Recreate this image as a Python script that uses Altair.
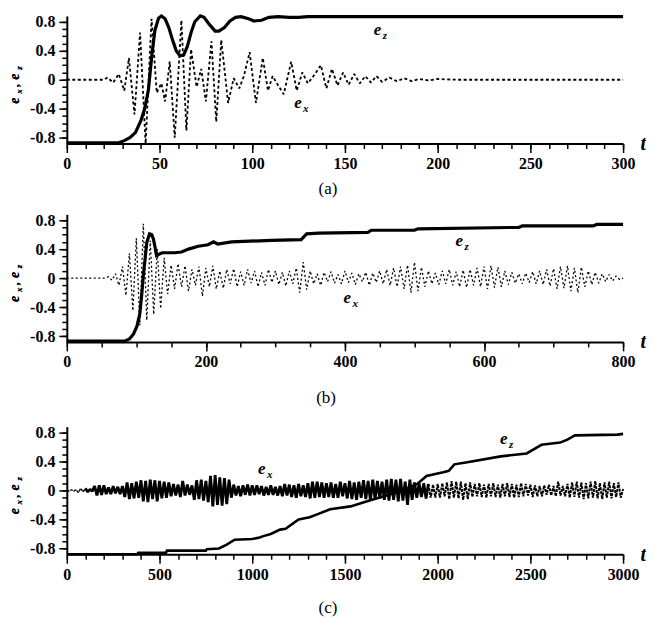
import altair as alt
import pandas as pd

FONT = "Liberation Serif"
W, H = 558, 128
YD = [-0.88, 0.88]
Y_MAJOR = [-0.8, -0.4, 0, 0.4, 0.8]
Y_MINOR = [-0.8, -0.7, -0.6, -0.5, -0.4, -0.3, -0.2, -0.1, 0, 0.1, 0.2, 0.3, 0.4, 0.5, 0.6, 0.7, 0.8]

# ---------------- panel (a) ----------------
a_tz = [0, 28, 31, 34, 37, 40, 42, 44, 46, 47.5, 49.5, 51, 53, 55, 57, 59, 61, 63, 65, 67, 69, 72, 74,
        77, 80, 82, 85, 88, 91, 94, 98, 101, 105, 109, 114, 120, 125, 130, 140, 300]
a_ez = [-0.87, -0.87, -0.84, -0.80, -0.73, -0.56, -0.40, -0.14, 0.37, 0.68, 0.85, 0.88, 0.84, 0.72, 0.55,
        0.40, 0.33, 0.34, 0.46, 0.65, 0.80, 0.88, 0.86, 0.76, 0.67, 0.67, 0.72, 0.81, 0.86, 0.87, 0.84,
        0.81, 0.82, 0.86, 0.87, 0.86, 0.86, 0.87, 0.87, 0.87]
a_tx = [0, 20, 22, 25, 28, 31, 33.5, 36.5, 39.5, 42.5, 45.7, 48.5, 51, 53, 55.5, 58.2, 61.8, 64.5, 67, 70,
        72.5, 75, 78, 80.6, 83.3, 87, 90, 93, 95.5, 98.6, 102, 105.7, 108.5, 111, 114, 117, 121, 124, 127,
        130, 133, 137, 140, 143, 146, 149, 152, 155, 158, 161, 164, 167, 170, 174, 178, 182, 186, 190, 195,
        200, 210, 300]
a_ex = [0, 0, 0.03, -0.04, 0.08, -0.15, 0.30, -0.48, 0.65, -0.88, 0.84, -0.18, -0.05, -0.30, 0.25, -0.80,
        0.82, -0.70, 0.42, -0.10, 0.15, -0.30, 0.53, -0.58, 0.55, -0.32, 0.02, -0.12, 0.05, 0.38, -0.32,
        0.30, -0.15, 0.05, -0.08, -0.20, 0.25, -0.15, 0.10, -0.05, 0.05, 0.20, -0.12, 0.15, -0.08, 0.10,
        -0.07, 0.08, -0.05, 0.05, -0.04, 0.05, -0.03, 0.03, -0.02, 0.02, -0.02, 0.01, -0.01, 0.01, 0, 0]

# ---------------- panel (b) ----------------
b_tz = [0, 83, 90, 96, 101, 105, 108, 110, 113, 115, 119, 122, 124.5, 127, 129, 133, 137, 155, 165, 175,
        189, 203, 211, 217, 237, 294, 337, 345, 362, 433, 438, 500, 505, 650, 655, 757, 762, 800]
b_ez = [-0.87, -0.87, -0.84, -0.77, -0.66, -0.49, -0.20, 0.03, 0.30, 0.49, 0.61, 0.60, 0.54, 0.42, 0.31,
        0.33, 0.35, 0.35, 0.36, 0.40, 0.44, 0.46, 0.50, 0.47, 0.50, 0.52, 0.53, 0.61, 0.62, 0.63, 0.66,
        0.66, 0.68, 0.70, 0.72, 0.72, 0.74, 0.74]
b_tx = list(range(0, 805, 5))
b_ex = [0, 0, 0, 0, 0, 0, 0, 0, 0, 0, 0, 0,
        0.02, -0.03, 0.06, -0.10, 0.16, -0.24, 0.34, -0.45, 0.55, -0.65, 0.75, -0.58, 0.52, -0.50, 0.40,
        -0.42, 0.28, -0.22, 0.18, -0.15, 0.20, -0.12, 0.17, -0.18, 0.12, -0.10, 0.16, -0.25, 0.14, -0.12,
        0.17, -0.15, 0.10, -0.14, 0.12, -0.08, 0.13, -0.12, 0.09, -0.10, 0.12, -0.07, 0.10, -0.12, 0.08,
        -0.10, 0.12, -0.06, 0.10, -0.09, 0.08, -0.11, 0.10, -0.08, 0.14, -0.20, 0.22, -0.16, 0.10, -0.08,
        0.06, -0.10, 0.08, -0.05, 0.09, -0.07, 0.05, -0.08, 0.10, -0.06, 0.07, -0.09, 0.06, -0.05, 0.08,
        -0.10, 0.07, -0.06, 0.10, -0.08, 0.12, -0.10, 0.14, -0.12, 0.16, -0.15, 0.18, -0.20, 0.22, -0.18,
        0.15, -0.12, 0.10, -0.08, 0.07, -0.09, 0.10, -0.08, 0.12, -0.10, 0.09, -0.12, 0.11, -0.13, 0.12,
        -0.10, 0.14, -0.12, 0.16, -0.15, 0.17, -0.13, 0.15, -0.12, 0.10, -0.09, 0.08, -0.07, 0.06, -0.08,
        0.07, -0.06, 0.09, -0.08, 0.10, -0.09, 0.12, -0.11, 0.13, -0.15, 0.16, -0.14, 0.17, -0.18, 0.14,
        -0.20, 0.15, -0.12, 0.10, -0.09, 0.08, -0.07, 0.06, -0.05, 0.05, -0.04, 0.03, -0.02, 0.0]

# ---------------- panel (c) ----------------
c_tz = [0, 380, 385, 535, 540, 750, 755, 820, 860, 905, 1000, 1040, 1060, 1100, 1150, 1180, 1250, 1310,
        1350, 1420, 1530, 1620, 1710, 1800, 1890, 1940, 2030, 2060, 2090, 2160, 2340, 2480, 2520, 2560,
        2660, 2700, 2740, 2970, 3000]
c_ez = [-0.88, -0.88, -0.86, -0.86, -0.83, -0.83, -0.81, -0.80, -0.75, -0.68, -0.67, -0.65, -0.63, -0.60,
        -0.54, -0.53, -0.40, -0.37, -0.33, -0.26, -0.22, -0.15, -0.08, -0.01, 0.09, 0.20, 0.25, 0.27,
        0.36, 0.39, 0.47, 0.51, 0.57, 0.63, 0.66, 0.70, 0.76, 0.77, 0.78]
c_tx = [i * 12.5 for i in range(241)]
c_ex = [0.01, -0.01, 0.01, -0.01, 0.01, -0.03, 0.03, -0.02,
        0.03, -0.02, 0.015, -0.01, 0.06, -0.07, 0.07, -0.06,
        0.07, -0.05, 0.04, -0.05, 0.06, -0.04, 0.05, -0.05,
        0.06, -0.09, 0.11, -0.12, 0.10, -0.11, 0.12, -0.10,
        0.14, -0.15, 0.13, -0.16, 0.15, -0.12, 0.14, -0.15,
        0.13, -0.11, 0.12, -0.10, 0.11, -0.08, 0.09, -0.07,
        0.08, -0.09, 0.13, -0.07, 0.08, -0.06, 0.07, -0.13,
        0.14, -0.12, 0.15, -0.14, 0.13, -0.16, 0.20, -0.22,
        0.21, -0.20, 0.18, -0.21, 0.17, -0.19, 0.15, -0.10,
        0.08, -0.07, 0.06, -0.08, 0.07, -0.06, 0.08, -0.07,
        0.07, -0.06, 0.07, -0.05, 0.06, -0.07, 0.05, -0.06,
        0.07, -0.06, 0.05, -0.07, 0.06, -0.08, 0.09, -0.07,
        0.08, -0.09, 0.07, -0.10, 0.09, -0.08, 0.07, -0.09,
        0.10, -0.11, 0.12, -0.10, 0.12, -0.09, 0.11, -0.10,
        0.10, -0.09, 0.11, -0.10, 0.09, -0.10, 0.12, -0.08,
        0.10, -0.11, 0.13, -0.12, 0.11, -0.13, 0.12, -0.10,
        0.14, -0.12, 0.13, -0.14, 0.15, -0.12, 0.13, -0.11,
        0.12, -0.13, 0.15, -0.14, 0.16, -0.13, 0.15, -0.15,
        0.16, -0.14, 0.12, -0.20, 0.15, -0.13, 0.11, -0.10,
        0.10, -0.09, 0.10, -0.11, 0.09, -0.10, 0.08, -0.10,
        0.09, -0.10, 0.10, -0.08, 0.11, -0.12, 0.13, -0.10,
        0.12, -0.11, 0.12, -0.13, 0.10, -0.12, 0.11, -0.09,
        0.09, -0.08, 0.10, -0.09, 0.08, -0.10, 0.09, -0.08,
        0.10, -0.09, 0.08, -0.10, 0.09, -0.08, 0.10, -0.09,
        0.09, -0.10, 0.08, -0.09, 0.10, -0.08, 0.09, -0.07,
        0.08, -0.09, 0.07, -0.08, 0.06, -0.08, 0.07, -0.06,
        0.08, -0.07, 0.06, -0.08, 0.12, -0.07, 0.06, -0.08,
        0.09, -0.10, 0.11, -0.09, 0.12, -0.10, 0.11, -0.12,
        0.10, -0.11, 0.12, -0.10, 0.13, -0.11, 0.10, -0.12,
        0.11, -0.10, 0.12, -0.11, 0.10, -0.09, 0.11, -0.10,
        0.02]

# label anchors (data units): [t, value] of e_z and e_x labels
a_lab = {"t": [165.6, 122.6], "v": [0.62, -0.385]}
b_lab = {"t": [559, 398], "v": [0.44, -0.344]}
c_lab = {"t": [2336, 1031], "v": [0.646, 0.22]}

Y_LABEL_EXPR = ("datum.value == 0 ? '0' : (datum.value < 0 ? '-' + format(-datum.value, '.1f') "
                ": format(datum.value, '.1f'))")


def panel(tz, vz, tx, vx, xmax, xmaj, xmin, lab, caption, cap_dx, cap_off, ex_styles, ez_w):
    xs = alt.Scale(domain=[0, xmax], nice=False, zero=False)
    ys = alt.Scale(domain=YD, nice=False, zero=False)
    x_major = alt.Axis(values=xmaj, format="d", tickSize=9, tickWidth=1.5, tickColor="black",
                       domainWidth=2, domainColor="black", labelFont=FONT, labelFontSize=16,
                       labelFontWeight="bold", labelColor="black", labelPadding=3, labelFlush=False,
                       labelOverlap=False, grid=False, orient="bottom",
                       title="t", titleFont=FONT, titleFontSize=20, titleFontStyle="italic",
                       titleFontWeight="bold", titleColor="black", titleX=W + 17, titleY=6,
                       titleAlign="left", titleBaseline="alphabetic", titleAngle=0)
    x_minor = alt.Axis(values=xmin, labels=False, tickSize=5, tickWidth=1.5, tickColor="black",
                       domain=False, grid=False, title="", orient="bottom")
    y_major = alt.Axis(values=Y_MAJOR, labelExpr=Y_LABEL_EXPR, tickSize=8, tickWidth=1.5,
                       tickColor="black", domainWidth=2, domainColor="black", labelFont=FONT,
                       labelFontSize=16, labelFontWeight="bold", labelColor="black", labelPadding=4,
                       labelFlush=False, labelOverlap=False, grid=False, title="", orient="left")
    y_minor = alt.Axis(values=Y_MINOR, labels=False, tickSize=5, tickWidth=1.5, tickColor="black",
                       domain=False, grid=False, title="", orient="left")

    dz = pd.DataFrame({"t": tz, "v": vz})
    dx = pd.DataFrame({"t": tx, "v": vx})
    dl = pd.DataFrame({"t": lab["t"], "v": lab["v"], "m": ["e", "e"], "s": ["z", "x"]})

    ex_layers = []
    for i, (t0, t1, w, dash) in enumerate(ex_styles):
        kw = dict(color="black", strokeWidth=w, strokeJoin="bevel")
        if dash:
            kw["strokeDash"] = dash
        axes = (x_minor, y_minor) if i == 0 else (None, None)
        ex_layers.append(alt.Chart(dx).transform_filter(
            f"datum.t >= {t0} && datum.t <= {t1}").mark_line(**kw).encode(
            x=alt.X("t:Q", scale=xs, axis=axes[0]), y=alt.Y("v:Q", scale=ys, axis=axes[1])))
    lz = alt.Chart(dz).mark_line(color="black", strokeWidth=ez_w).encode(
        x=alt.X("t:Q", scale=xs, axis=x_major), y=alt.Y("v:Q", scale=ys, axis=y_major))
    tm = alt.Chart(dl).mark_text(font=FONT, fontSize=17, fontStyle="italic", fontWeight="bold",
                                 align="left", baseline="alphabetic", color="black").encode(
        x=alt.X("t:Q", scale=xs, axis=None), y=alt.Y("v:Q", scale=ys, axis=None), text="m:N")
    ts = alt.Chart(dl).mark_text(font=FONT, fontSize=11, fontStyle="italic", fontWeight="bold",
                                 align="left", baseline="alphabetic", color="black", dx=9, dy=4).encode(
        x=alt.X("t:Q", scale=xs, axis=None), y=alt.Y("v:Q", scale=ys, axis=None), text="s:N")

    # rotated y-axis title "e_x, e_z" built from pieces
    pieces = []
    for txt, yy, xx, fs in [("e", 88, -48, 14), ("x", 78, -45, 9), (",", 71, -48, 13),
                            ("e", 64, -48, 14), ("z", 54, -45, 9)]:
        pieces.append(alt.Chart(dl).mark_text(text=txt, font=FONT, fontSize=fs, fontStyle="italic",
                                              fontWeight="bold", angle=270, align="left",
                                              baseline="alphabetic", color="black").encode(
            x=alt.value(xx), y=alt.value(yy)))

    return alt.layer(*ex_layers, lz, tm, ts, *pieces).resolve_axis(
        x="independent", y="independent").properties(
        width=W, height=H,
        title=alt.TitleParams(caption, orient="bottom", anchor="middle", dx=cap_dx, offset=cap_off,
                              font=FONT, fontSize=17, fontWeight="normal", color="black"))


pa = panel(a_tz, a_ez, a_tx, a_ex, 300, list(range(0, 301, 50)), list(range(0, 301, 10)), a_lab,
           "(a)", -17, 10, [(0, 300, 1.8, [3, 2.5])], 3.2)
pb = panel(b_tz, b_ez, b_tx, b_ex, 800, list(range(0, 801, 200)), list(range(0, 801, 50)), b_lab,
           "(b)", -19, 20, [(0, 800, 1.3, [2, 2.5])], 3.2)
pc = panel(c_tz, c_ez, c_tx, c_ex, 3000, list(range(0, 3001, 500)), list(range(0, 3001, 100)), c_lab,
           "(c)", -17, 18, [(0, 100, 1.4, [3, 1]), (100, 1950, 2.8, None), (1950, 3000, 2.0, [3, 1])], 2.6)

top = alt.vconcat(pa, pb, spacing=14)
chart = alt.vconcat(top, pc, spacing=18).properties(
    padding={"left": 0, "top": 0, "right": 0, "bottom": 0}
).configure_view(stroke=None).configure_axis(grid=False)

chart.save("out.html", embed_options={"renderer": "svg", "actions": False})
